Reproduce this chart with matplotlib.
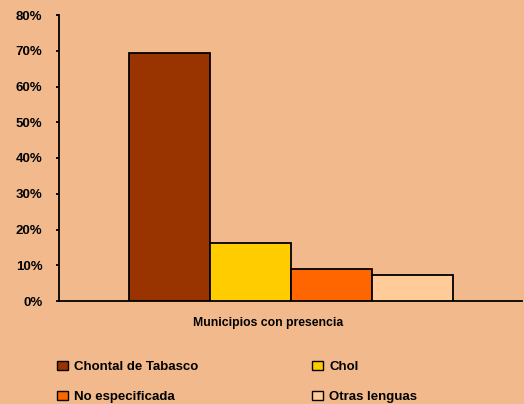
import matplotlib
matplotlib.use("Agg")
import matplotlib.pyplot as plt
from matplotlib.patches import Patch
from matplotlib.ticker import FuncFormatter, MultipleLocator

category = "Municipios con presencia"
languages = ["Chontal de Tabasco", "Chol", "No especificada", "Otras lenguas"]
shares = [69.3, 16.3, 8.9, 7.4]
colors = ["#993300", "#FFCC00", "#FF6600", "#FFCC99"]

bg = "#F2BA8C"
plt.rcParams["font.family"] = ["Liberation Sans", "DejaVu Sans"]
plt.rcParams["font.weight"] = "bold"

fig = plt.figure(figsize=(5.24, 4.04), dpi=100, facecolor=bg)
ax = fig.add_axes([59 / 524, 1 - 301 / 404, 463 / 524, 286 / 404], facecolor=bg)

width = 0.175
offsets = [-1.5, -0.5, 0.5, 1.5]
for lang, val, col, off in zip(languages, shares, colors, offsets):
    ax.bar(0.502 + off * width, val, width=width, color=col,
           edgecolor="black", linewidth=1.3, label=lang, zorder=3)

ax.set_xlim(0, 1)
ax.set_ylim(0, 80)
ax.yaxis.set_major_locator(MultipleLocator(10))
ax.yaxis.set_major_formatter(FuncFormatter(lambda v, p: f"{v:.0f}%"))
ax.set_xticks([])
ax.tick_params(axis="y", length=2.5, width=1.3, labelsize=9.5, pad=9.5)
for lbl in ax.get_yticklabels():
    lbl.set_fontweight("bold")
for s in ["top", "right"]:
    ax.spines[s].set_visible(False)
for s in ["left", "bottom"]:
    ax.spines[s].set_linewidth(1.3)
    ax.spines[s].set_color("black")

# category name under the axis
fig.text(268 / 524, 1 - 323 / 404, category, ha="center", va="center",
         fontsize=8.8, fontweight="bold")

handles = [Patch(facecolor=c, edgecolor="black", linewidth=1.0) for c in colors]
leg_kw = dict(frameon=False, handlelength=0.8, handleheight=0.7,
              handletextpad=0.5, labelspacing=1.35, borderpad=0, borderaxespad=0,
              loc="upper left", prop={"weight": "bold", "size": 9.5})
fig.legend([handles[0], handles[2]], [languages[0], languages[2]],
           bbox_to_anchor=(57 / 524, 1 - 361 / 404), **leg_kw)
fig.legend([handles[1], handles[3]], [languages[1], languages[3]],
           bbox_to_anchor=(312 / 524, 1 - 361 / 404), **leg_kw)

fig.savefig("out.png", dpi=100, facecolor=bg)
